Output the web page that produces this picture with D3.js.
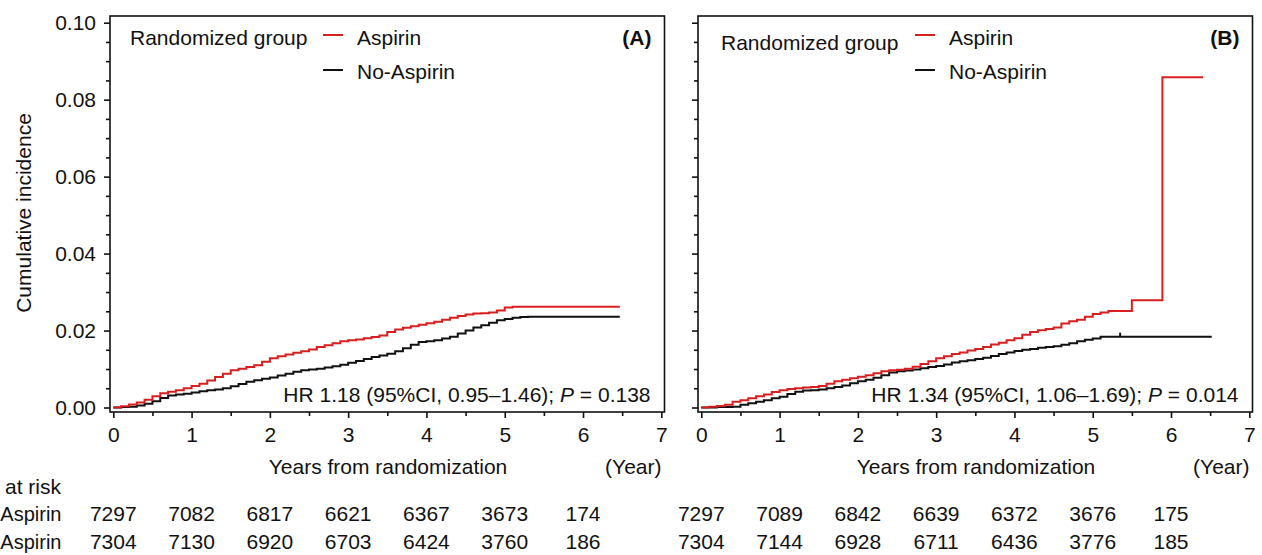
<!DOCTYPE html>
<html><head><meta charset="utf-8">
<script src="https://cdn.jsdelivr.net/npm/d3@7"></script>
<style>
body{margin:0;background:#fff}
svg{display:block}
text{font-family:"Liberation Sans",Arial,Helvetica,sans-serif;fill:#111}
</style>
</head><body>
<svg id="chart" width="1262" height="555"></svg>
<script>
// ---------- DATA ----------
const xTickValues = [0, 1, 2, 3, 4, 5, 6, 7];
const xMinorValues = [0.5, 1.5, 2.5, 3.5, 4.5, 5.5, 6.5];
const yTickValues = [0, 0.02, 0.04, 0.06, 0.08, 0.10];
const yMinorValues = [0.005, 0.01, 0.015, 0.025, 0.03, 0.035, 0.045, 0.05, 0.055, 0.065, 0.07, 0.075, 0.085, 0.09, 0.095];
const seriesNames = ["Aspirin", "No-Aspirin"];
const riskRowLabels = ["at risk", "Aspirin", "Aspirin"];   // as visible (cropped) in the reference
const panelLabels = ["(A)", "(B)"];
const hrTexts = [["HR 1.18 (95%CI, 0.95–1.46); ", "P", " = 0.138"], ["HR 1.34 (95%CI, 1.06–1.69); ", "P", " = 0.014"]];
const riskTimes = [0, 1, 2, 3, 4, 5, 6];
const riskAspirinA = [7297, 7082, 6817, 6621, 6367, 3673, 174];
const riskNoAspirinA = [7304, 7130, 6920, 6703, 6424, 3760, 186];
const riskAspirinB = [7297, 7089, 6842, 6639, 6372, 3676, 175];
const riskNoAspirinB = [7304, 7144, 6928, 6711, 6436, 3776, 185];

// Panel A, Aspirin
const timeAspA = [0,0.1,0.2,0.3,0.4,0.5,0.6,0.7,0.8,0.9,1.0,1.1,1.2,1.3,1.4,1.5,1.6,1.7,1.8,1.9,2.0,2.1,2.2,2.3,2.4,2.5,2.6,2.7,2.8,2.9,3.0,3.1,3.2,3.3,3.4,3.5,3.6,3.7,3.8,3.9,4.0,4.1,4.2,4.3,4.4,4.5,4.6,4.7,4.8,4.9,5.0,5.1,6.47];
const incAspA = [0,0.0003,0.0008,0.0013,0.0020,0.0029,0.0037,0.0041,0.0045,0.0050,0.0056,0.0062,0.0070,0.0079,0.0088,0.0097,0.0101,0.0105,0.0110,0.0119,0.0128,0.0133,0.0138,0.0142,0.0146,0.0151,0.0157,0.0162,0.0167,0.0172,0.0175,0.0177,0.0180,0.0183,0.0187,0.0196,0.0203,0.0207,0.0211,0.0215,0.0219,0.0223,0.0228,0.0233,0.0238,0.0242,0.0244,0.0245,0.0247,0.0252,0.0260,0.0262,0.0262];
// Panel A, No-Aspirin
const timeNoA = [0,0.1,0.2,0.3,0.4,0.5,0.6,0.7,0.8,0.9,1.0,1.1,1.2,1.3,1.4,1.5,1.6,1.7,1.8,1.9,2.0,2.1,2.2,2.3,2.4,2.5,2.6,2.7,2.8,2.9,3.0,3.1,3.2,3.3,3.4,3.5,3.6,3.7,3.8,3.9,4.0,4.1,4.2,4.3,4.4,4.5,4.6,4.7,4.8,4.9,5.0,5.1,5.2,5.3,6.47];
const incNoA = [0,0.0001,0.0002,0.0005,0.0010,0.0016,0.0025,0.0031,0.0034,0.0036,0.0039,0.0042,0.0045,0.0047,0.0050,0.0055,0.0061,0.0067,0.0071,0.0075,0.0078,0.0083,0.0088,0.0093,0.0097,0.0099,0.0101,0.0104,0.0107,0.0111,0.0116,0.0121,0.0126,0.0131,0.0135,0.0140,0.0146,0.0154,0.0163,0.0170,0.0172,0.0175,0.0179,0.0184,0.0192,0.0200,0.0208,0.0214,0.0220,0.0227,0.0230,0.0233,0.0235,0.0236,0.0236];
// Panel B, Aspirin
const timeAspB = [0,0.1,0.2,0.3,0.4,0.5,0.6,0.7,0.8,0.9,1.0,1.1,1.2,1.3,1.4,1.5,1.6,1.7,1.8,1.9,2.0,2.1,2.2,2.3,2.4,2.5,2.6,2.7,2.8,2.9,3.0,3.1,3.2,3.3,3.4,3.5,3.6,3.7,3.8,3.9,4.0,4.1,4.2,4.3,4.4,4.5,4.6,4.7,4.8,4.9,5.0,5.1,5.2,5.5,5.89,6.41];
const incAspB = [0,0.0002,0.0004,0.0007,0.0015,0.0019,0.0024,0.0029,0.0034,0.0040,0.0045,0.0048,0.0050,0.0052,0.0053,0.0056,0.0062,0.0068,0.0072,0.0076,0.0080,0.0084,0.0089,0.0094,0.0097,0.0098,0.0101,0.0106,0.0113,0.0120,0.0128,0.0133,0.0139,0.0143,0.0148,0.0152,0.0157,0.0164,0.0168,0.0175,0.0180,0.0189,0.0196,0.0201,0.0204,0.0208,0.0218,0.0224,0.0228,0.0236,0.0243,0.0247,0.0251,0.0279,0.0858,0.0858];
// Panel B, No-Aspirin
const timeNoB = [0,0.1,0.2,0.3,0.4,0.5,0.6,0.7,0.8,0.9,1.0,1.1,1.2,1.3,1.4,1.5,1.6,1.7,1.8,1.9,2.0,2.1,2.2,2.3,2.4,2.5,2.6,2.7,2.8,2.9,3.0,3.1,3.2,3.3,3.4,3.5,3.6,3.7,3.8,3.9,4.0,4.1,4.2,4.3,4.4,4.5,4.6,4.7,4.8,4.9,5.0,5.1,6.52];
const incNoB = [0,0,0.0001,0.0001,0.0002,0.0007,0.0011,0.0015,0.0019,0.0024,0.0028,0.0035,0.0041,0.0044,0.0045,0.0047,0.0050,0.0053,0.0057,0.0063,0.0068,0.0072,0.0077,0.0084,0.0091,0.0094,0.0096,0.0099,0.0102,0.0105,0.0108,0.0112,0.0117,0.0120,0.0123,0.0126,0.0129,0.0134,0.0139,0.0143,0.0147,0.0150,0.0152,0.0155,0.0157,0.0159,0.0163,0.0167,0.0172,0.0176,0.0179,0.0184,0.0184];
const censorNoB = [5.35];

// ---------- BUILD ----------
const zip = (t, v) => t.map((d, i) => [d, v[i]]);
const panels = [
  {left: 110, label: panelLabels[0], hr: hrTexts[0], yLabels: true,
   asp: zip(timeAspA, incAspA), no: zip(timeNoA, incNoA), censNo: [],
   riskAsp: riskAspirinA, riskNo: riskNoAspirinA, rgDy: 0},
  {left: 698, label: panelLabels[1], hr: hrTexts[1], yLabels: false,
   asp: zip(timeAspB, incAspB), no: zip(timeNoB, incNoB), censNo: censorNoB,
   riskAsp: riskAspirinB, riskNo: riskNoAspirinB, rgDy: 5}
];

const RED = "#d81e1e", BLACK = "#111111";
const FS = 21;
const svg = d3.select("#chart");
const frameTop = 16, frameBottom = 412, panelW = 554.5;
const y = d3.scaleLinear().domain([0, 0.1]).range([407.5, 22.7]);

panels.forEach((p, pi) => {
  const L = p.left, R = L + panelW;
  const x = d3.scaleLinear().domain([0, 7]).range([L + 3.3, L + 551.3]);
  const g = svg.append("g");

  // minor ticks
  g.append("g").attr("transform", `translate(0,${frameBottom})`)
    .call(d3.axisBottom(x).tickValues(xMinorValues).tickSize(4).tickSizeOuter(0).tickFormat(""))
    .call(a => a.select(".domain").remove());
  g.append("g").attr("transform", `translate(${L},0)`)
    .call(d3.axisLeft(y).tickValues(yMinorValues).tickSize(4).tickSizeOuter(0).tickFormat(""))
    .call(a => a.select(".domain").remove());
  // major ticks
  const xa = g.append("g").attr("transform", `translate(0,${frameBottom})`)
    .call(d3.axisBottom(x).tickValues(xTickValues).tickSize(6).tickPadding(9).tickSizeOuter(0).tickFormat(d3.format("d")));
  xa.select(".domain").remove();
  const ya = g.append("g").attr("transform", `translate(${L},0)`)
    .call(d3.axisLeft(y).tickValues(yTickValues).tickSize(6).tickPadding(8).tickSizeOuter(0)
      .tickFormat(p.yLabels ? d3.format(".2f") : ""));
  ya.select(".domain").remove();
  g.selectAll(".tick line").attr("stroke", BLACK).attr("stroke-width", 1.6);
  g.selectAll(".tick text").attr("font-size", FS).attr("font-family", null).attr("fill", BLACK);

  // frame
  g.append("rect").attr("x", L).attr("y", frameTop).attr("width", panelW).attr("height", frameBottom - frameTop)
    .attr("fill", "none").attr("stroke", BLACK).attr("stroke-width", 1.6);

  // curves
  const line = d3.line().x(d => x(d[0])).y(d => y(d[1])).curve(d3.curveStepAfter);
  g.append("path").datum(p.no).attr("d", line).attr("fill", "none").attr("stroke", BLACK).attr("stroke-width", 2);
  g.append("path").datum(p.asp).attr("d", line).attr("fill", "none").attr("stroke", RED).attr("stroke-width", 2);
  const lastNo = p.no[p.no.length - 1][1];
  g.selectAll(".cens").data(p.censNo).join("line").attr("class", "cens")
    .attr("x1", d => x(d)).attr("x2", d => x(d)).attr("y1", y(lastNo)).attr("y2", y(lastNo) - 4)
    .attr("stroke", BLACK).attr("stroke-width", 2);

  // legend
  const lgX = L + 20, lineX = pi === 0 ? L + 213 : L + 217;
  g.append("text").attr("x", lgX + (pi === 0 ? 0 : 3)).attr("y", 45 + p.rgDy).attr("font-size", FS).text("Randomized group");
  g.append("line").attr("x1", lineX).attr("x2", lineX + 20).attr("y1", 35).attr("y2", 35).attr("stroke", RED).attr("stroke-width", 2);
  g.append("line").attr("x1", lineX).attr("x2", lineX + 20).attr("y1", 70).attr("y2", 70).attr("stroke", BLACK).attr("stroke-width", 2);
  g.append("text").attr("x", lineX + 34).attr("y", 45).attr("font-size", FS).text(seriesNames[0]);
  g.append("text").attr("x", lineX + 34).attr("y", 79).attr("font-size", FS).text(seriesNames[1]);

  // panel label
  g.append("text").attr("x", R - 13).attr("y", 45).attr("text-anchor", "end").attr("font-size", FS)
    .attr("font-weight", "bold").text(p.label);

  // HR text
  const hr = g.append("text").attr("x", R - 14).attr("y", 402).attr("text-anchor", "end").attr("font-size", FS);
  hr.append("tspan").text(p.hr[0]);
  hr.append("tspan").attr("font-style", "italic").text(p.hr[1]);
  hr.append("tspan").text(p.hr[2]);

  // axis titles
  g.append("text").attr("x", L + 278).attr("y", 474).attr("text-anchor", "middle").attr("font-size", FS).text("Years from randomization");
  g.append("text").attr("x", R - 3).attr("y", 474).attr("text-anchor", "end").attr("font-size", FS).text("(Year)");

  // risk table
  g.selectAll(".ra").data(p.riskAsp).join("text").attr("class", "ra")
    .attr("x", (d, i) => x(riskTimes[i])).attr("y", 521).attr("text-anchor", "middle").attr("font-size", FS).text(d => d);
  g.selectAll(".rn").data(p.riskNo).join("text").attr("class", "rn")
    .attr("x", (d, i) => x(riskTimes[i])).attr("y", 549).attr("text-anchor", "middle").attr("font-size", FS).text(d => d);
});

// y axis title
svg.append("text").attr("transform", "translate(31,213) rotate(-90)").attr("text-anchor", "middle")
  .attr("font-size", FS).text("Cumulative incidence");

// risk table row labels (left edge of the figure is cropped in the reference)
svg.append("text").attr("x", 61).attr("y", 494).attr("text-anchor", "end").attr("font-size", FS).text(riskRowLabels[0]);
svg.append("text").attr("x", 61.5).attr("y", 521).attr("text-anchor", "end").attr("font-size", 20).text(riskRowLabels[1]);
svg.append("text").attr("x", 61.5).attr("y", 549).attr("text-anchor", "end").attr("font-size", 20).text(riskRowLabels[2]);
</script>
</body></html>
